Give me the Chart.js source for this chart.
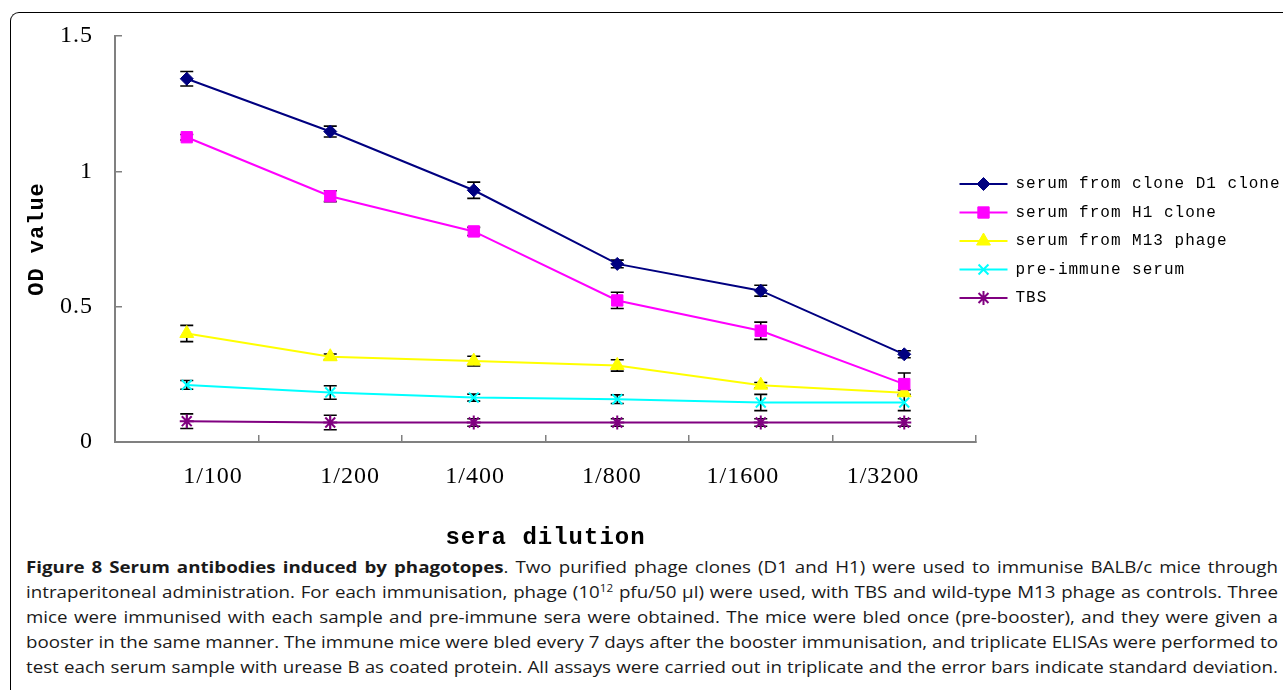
<!DOCTYPE html>
<html>
<head>
<meta charset="utf-8">
<script src="https://cdn.jsdelivr.net/npm/chart.js@4.4.1/dist/chart.umd.min.js"></script>
<style>
html, body { margin: 0; padding: 0; background: #fff; width: 1283px; height: 690px; overflow: hidden; }
#frame { position: absolute; left: 10px; top: 12px; width: 1320px; height: 720px; border-top: 1.5px solid #000; border-left: 1.5px solid #000; border-top-left-radius: 9px; }
#wrap { position: absolute; left: 0; top: 0; width: 1283px; height: 555px; }
#caption { position: absolute; left: 26px; top: 555px; font-family: "Open Sans"; font-size: 16px; line-height: 25px; color: #1a1a1a; transform-origin: 0 0; }
#caption div { text-align: justify; text-align-last: justify; white-space: nowrap; }
#caption sup { font-size: 10px; line-height: 0; vertical-align: 6px; }
</style>
</head>
<body>
<div id="frame"></div>
<div id="wrap"><canvas id="odChart" width="1283" height="555"></canvas></div>
<div id="caption">
<div><b>Figure 8 Serum antibodies induced by phagotopes</b>. Two purified phage clones (D1 and H1) were used to immunise BALB/c mice through</div>
<div>intraperitoneal administration. For each immunisation, phage (10<sup>12</sup> pfu/50 µl) were used, with TBS and wild-type M13 phage as controls. Three</div>
<div>mice were immunised with each sample and pre-immune sera were obtained. The mice were bled once (pre-booster), and they were given a</div>
<div>booster in the same manner. The immune mice were bled every 7 days after the booster immunisation, and triplicate ELISAs were performed to</div>
<div>test each serum sample with urease B as coated protein. All assays were carried out in triplicate and the error bars indicate standard deviation.</div>
</div>

<script>
// sera dilutions on the x axis
const dilutions = ["1/100", "1/200", "1/400", "1/800", "1/1600", "1/3200"];

const seriesNames = [
    "serum from clone D1 clone",
    "serum from H1 clone",
    "serum from M13 phage",
    "pre-immune serum",
    "TBS"
];

// OD values
const d1Values  = [1.342, 1.147, 0.930, 0.658, 0.559, 0.324];
const h1Values  = [1.126, 0.908, 0.778, 0.523, 0.411, 0.214];
const m13Values = [0.401, 0.315, 0.299, 0.283, 0.210, 0.182];
const preValues = [0.211, 0.183, 0.164, 0.158, 0.146, 0.146];
const tbsValues = [0.077, 0.072, 0.072, 0.072, 0.072, 0.072];

// standard deviations (error bars)
const d1Errors  = [0.027, 0.020, 0.030, 0.014, 0.020, 0.013];
const h1Errors  = [0.010, 0.020, 0.015, 0.030, 0.032, 0.041];
const m13Errors = [0.030, 0.010, 0.018, 0.021, 0.010, 0.010];
const preErrors = [0.016, 0.025, 0.013, 0.016, 0.030, 0.030];
const tbsErrors = [0.027, 0.027, 0.014, 0.014, 0.014, 0.014];

const yTicks = [0, 0.5, 1, 1.5];

const axisGrey = "#808080";

// where the dilution labels sit under the axis (in category units, 0..6)
const labelSpots = [0.683, 1.638, 2.509, 3.463, 4.376, 5.352];

function series(label, data, errors, color, pointStyle, radius, borderW) {
    return {
        label,
        data,
        errors,
        borderColor: color,
        backgroundColor: color,
        borderWidth: 2,
        tension: 0,
        fill: false,
        pointStyle,
        pointRadius: radius,
        pointHoverRadius: radius,
        pointBackgroundColor: color,
        pointBorderColor: color,
        pointBorderWidth: borderW
    };
}

const spacingPlugin = {
    id: "spacing",
    beforeUpdate(chart) { chart.ctx.letterSpacing = "1px"; },
    beforeDraw(chart) { chart.ctx.letterSpacing = "1px"; },
    afterLayout(chart) {
        // legend sits a little into the plot area, like the original
        const lg = chart.legend;
        lg.left -= 29;
        lg.top += 2;
        lg.bottom += 2;
    }
};

const errorBarPlugin = {
    id: "errorBars",
    beforeDatasetsDraw(chart) {
        const ctx = chart.ctx;
        const y = chart.scales.y;
        ctx.save();
        ctx.strokeStyle = "#000";
        ctx.lineWidth = 1.6;
        chart.data.datasets.forEach((ds, i) => {
            const meta = chart.getDatasetMeta(i);
            meta.data.forEach((pt, j) => {
                const top = y.getPixelForValue(ds.data[j] + ds.errors[j]);
                const bot = y.getPixelForValue(ds.data[j] - ds.errors[j]);
                ctx.beginPath();
                ctx.moveTo(pt.x, top); ctx.lineTo(pt.x, bot);
                ctx.moveTo(pt.x - 6.5, top); ctx.lineTo(pt.x + 6.5, top);
                ctx.moveTo(pt.x - 6.5, bot); ctx.lineTo(pt.x + 6.5, bot);
                ctx.stroke();
            });
        });
        ctx.restore();
    }
};

const legendMarkerPlugin = {
    id: "legendMarkers",
    afterDraw(chart) {
        const ctx = chart.ctx;
        const boxes = chart.legend.legendHitBoxes || [];
        ctx.save();
        boxes.forEach((box, i) => {
            const ds = chart.data.datasets[i];
            ctx.fillStyle = ds.pointBackgroundColor;
            ctx.strokeStyle = ds.pointBorderColor;
            ctx.lineWidth = ds.pointBorderWidth;
            Chart.helpers.drawPoint(ctx, {
                pointStyle: ds.pointStyle,
                radius: ds.pointRadius,
                borderWidth: ds.pointBorderWidth,
                rotation: 0
            }, box.left + 24, box.top + 8);
        });
        ctx.restore();
    }
};

new Chart(document.getElementById("odChart"), {
    type: "line",
    data: {
        labels: dilutions,
        datasets: [
            series(seriesNames[0], d1Values, d1Errors, "#000080", "rectRot", 6.5, 1),
            series(seriesNames[1], h1Values, h1Errors, "#FF00FF", "rect", 8, 1),
            series(seriesNames[2], m13Values, m13Errors, "#FFFF00", "triangle", 8, 1),
            series(seriesNames[3], preValues, preErrors, "#00FFFF", "crossRot", 7, 2),
            series(seriesNames[4], tbsValues, tbsErrors, "#800080", "star", 7, 2)
        ]
    },
    options: {
        responsive: false,
        animation: false,
        layout: { padding: { top: 36, left: 0, right: 0, bottom: 0 } },
        plugins: {
            tooltip: { enabled: false },
            legend: {
                position: "right",
                align: "center",
                fullSize: false,
                maxWidth: 307,
                labels: {
                    boxWidth: 48,
                    boxHeight: 2,
                    padding: 12.5,
                    color: "#000",
                    font: { family: "Liberation Mono", size: 16, lineHeight: 1 },
                    generateLabels(chart) {
                        return Chart.defaults.plugins.legend.labels.generateLabels(chart)
                            .map(item => ({ ...item, lineWidth: 0 }));
                    }
                }
            }
        },
        scales: {
            x: {
                type: "category",
                offset: true,
                grid: {
                    offset: true,
                    drawOnChartArea: false,
                    tickLength: -7,
                    color: axisGrey,
                    lineWidth: 1.5
                },
                border: { color: axisGrey, width: 2 },
                ticks: { display: false },
                afterFit(scale) { scale.height = 0; }
            },
            xl: {
                type: "linear",
                position: "bottom",
                weight: 1,
                min: 0,
                max: 6,
                grid: { display: false, drawTicks: false },
                border: { display: false },
                afterBuildTicks(scale) {
                    scale.ticks = labelSpots.map(v => ({ value: v }));
                },
                ticks: {
                    autoSkip: false,
                    maxRotation: 0,
                    padding: 20,
                    color: "#000",
                    font: { family: "Liberation Serif", size: 24 },
                    callback: (v, i) => dilutions[i]
                },
                title: {
                    display: true,
                    text: "sera dilution",
                    color: "#000",
                    font: { family: "Liberation Mono", size: 24, weight: "bold" },
                    padding: { top: 0, bottom: 3 }
                },
                afterFit(scale) { scale.height = 113; }
            },
            y: {
                min: 0,
                max: 1.5,
                afterBuildTicks(scale) {
                    scale.ticks = yTicks.map(v => ({ value: v }));
                },
                grid: {
                    drawOnChartArea: false,
                    tickLength: -7,
                    color: axisGrey,
                    lineWidth: 1.5
                },
                border: { color: axisGrey, width: 2 },
                ticks: {
                    padding: 29,
                    color: "#000",
                    font: { family: "Liberation Serif", size: 24 },
                    callback: v => String(v)
                },
                title: {
                    display: true,
                    text: "OD value",
                    color: "#000",
                    font: { family: "Liberation Mono", size: 22, weight: "bold" },
                    padding: { top: 24, bottom: 0 }
                },
                afterFit(scale) {
                    scale.width = 115;
                    // the label padding should not push the plot down
                    scale.paddingTop = 14;
                    scale.paddingBottom = 14;
                }
            }
        }
    },
    plugins: [spacingPlugin, errorBarPlugin, legendMarkerPlugin]
});

// the caption in the source is a little wider than Open Sans: stretch it to fit
const caption = document.getElementById("caption");
const lines = Array.from(caption.children);
let widest = 0;
lines.forEach(line => {
    line.style.display = "inline-block";
    widest = Math.max(widest, line.getBoundingClientRect().width);
    line.style.display = "block";
});
caption.style.width = widest + "px";
caption.style.transform = "scaleX(" + (1252 / widest) + ")";
</script>
</body>
</html>
